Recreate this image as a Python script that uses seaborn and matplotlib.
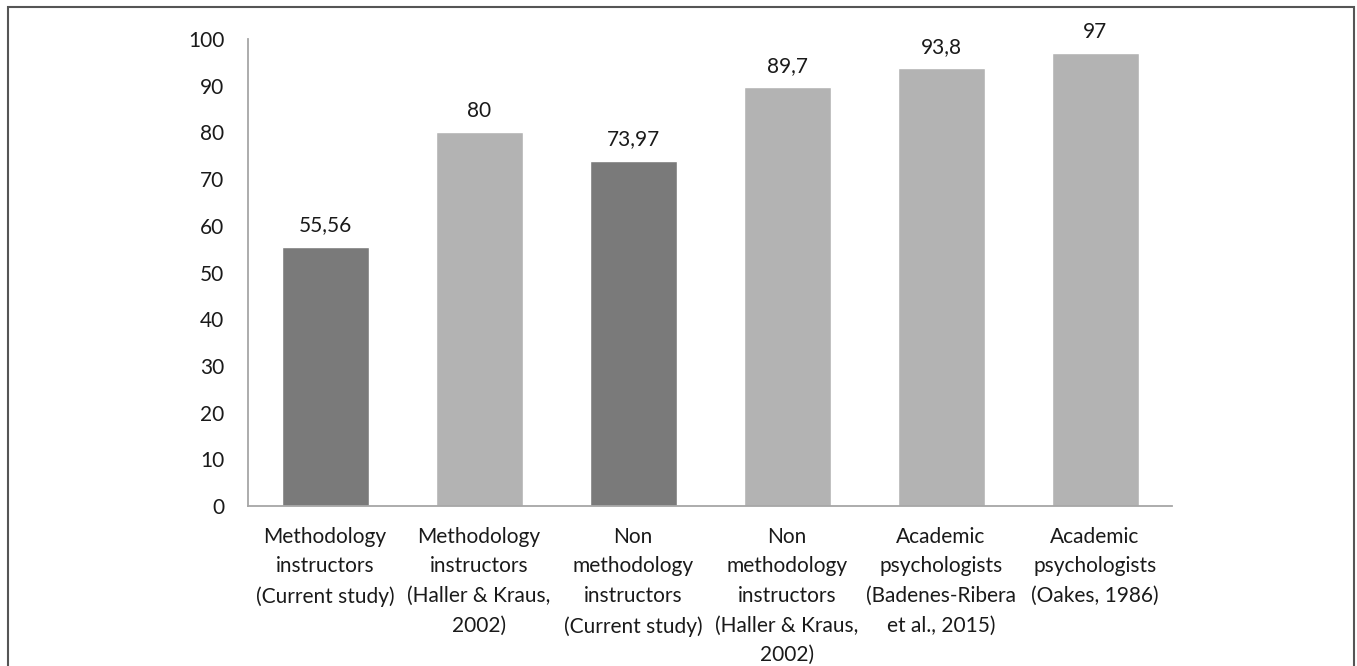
import matplotlib
matplotlib.use("Agg")
import matplotlib.pyplot as plt
import seaborn as sns
import pandas as pd
from matplotlib.patches import Rectangle

categories = [
    "Methodology\ninstructors\n(Current study)",
    "Methodology\ninstructors\n(Haller & Kraus,\n2002)",
    "Non\nmethodology\ninstructors\n(Current study)",
    "Non\nmethodology\ninstructors\n(Haller & Kraus,\n2002)",
    "Academic\npsychologists\n(Badenes-Ribera\net al., 2015)",
    "Academic\npsychologists\n(Oakes, 1986)",
]
values = [55.56, 80, 73.97, 89.7, 93.8, 97]
value_labels = ["55,56", "80", "73,97", "89,7", "93,8", "97"]
bar_colors = ["#7a7a7a", "#b3b3b3", "#7a7a7a", "#b3b3b3", "#b3b3b3", "#b3b3b3"]
yticks = list(range(0, 101, 10))

df = pd.DataFrame({"group": categories, "pct": values})

sns.set_style("white")
plt.rcParams["font.family"] = ["Lato", "DejaVu Sans"]

fig = plt.figure(figsize=(13.57, 6.66), dpi=100)
ax = fig.add_axes([0.1828, 0.2402, 0.6809, 0.7012])

sns.barplot(data=df, x="group", y="pct", hue="group", palette=bar_colors,
            legend=False, width=0.565, ax=ax, saturation=1)

for p, lab in zip(ax.patches, value_labels):
    ax.annotate(lab, (p.get_x() + p.get_width() / 2, p.get_height()),
                xytext=(0, 8), textcoords="offset points",
                ha="center", va="bottom", fontsize=15, color="#1a1a1a")

ax.set_ylim(0, 100)
ax.set_yticks(yticks)
ax.set_xlim(-0.5, len(categories) - 0.5)
ax.set_xlabel("")
ax.set_ylabel("")
ax.tick_params(axis="both", length=0, labelsize=15, colors="#1a1a1a")
ax.tick_params(axis="y", pad=17)
ax.tick_params(axis="x", pad=15)
for lab in ax.get_xticklabels():
    lab.set_linespacing(1.6)
    lab.set_va("top")

for side in ["top", "right"]:
    ax.spines[side].set_visible(False)
for side in ["left", "bottom"]:
    ax.spines[side].set_color("#a6a6a6")
    ax.spines[side].set_linewidth(1.3)

# outer frame around the figure
fig.patches.append(Rectangle((7.5 / 1357, -0.05), (1354 - 7.5) / 1357, 1.05 - 6.5 / 666,
                             transform=fig.transFigure, fill=False,
                             edgecolor="#555555", linewidth=1.5))

fig.savefig("out.png", dpi=100)
